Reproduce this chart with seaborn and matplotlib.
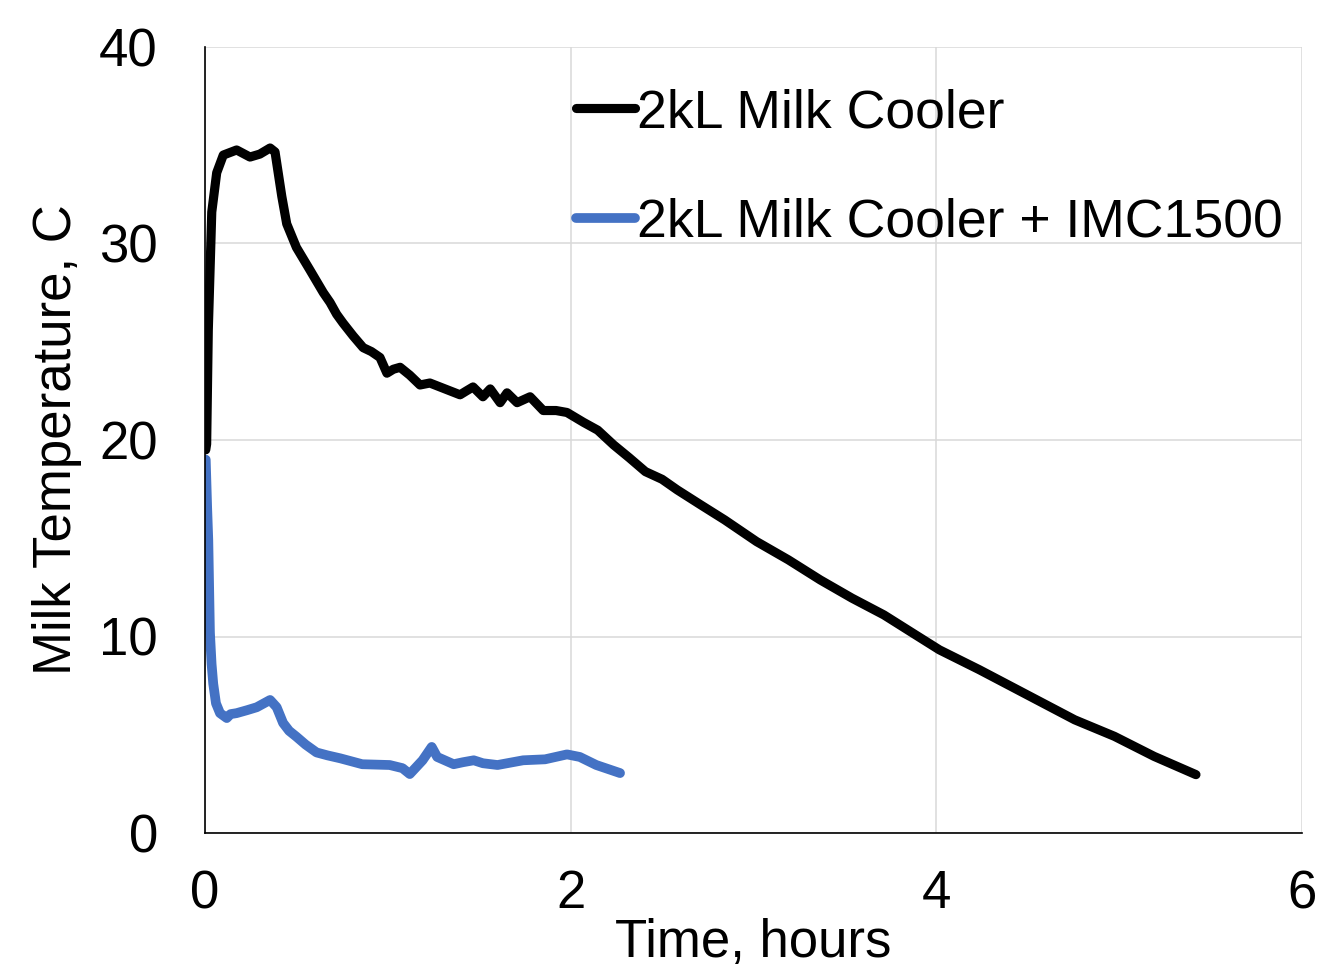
import numpy as np
import pandas as pd
import matplotlib
matplotlib.use("Agg")
import matplotlib.pyplot as plt
import seaborn as sns

# ---- data ----
series_names = ["2kL Milk Cooler", "2kL Milk Cooler + IMC1500"]
series_colors = ["#000000", "#4472C4"]

cooler_t = [0.004, 0.009, 0.018, 0.037, 0.064, 0.10, 0.173, 0.246, 0.30, 0.356,
            0.383, 0.42, 0.447, 0.50, 0.574, 0.647, 0.684, 0.72, 0.755, 0.81,
            0.865, 0.91, 0.957, 0.995, 1.03, 1.067, 1.12, 1.176, 1.23, 1.285,
            1.34, 1.395, 1.43, 1.466, 1.52, 1.56, 1.614, 1.652, 1.707, 1.778,
            1.85, 1.92, 1.98, 2.07, 2.148, 2.235, 2.32, 2.409, 2.5, 2.583,
            2.713, 2.843, 3.017, 3.191, 3.365, 3.539, 3.713, 3.887, 4.017, 4.235,
            4.409, 4.583, 4.757, 4.974, 5.191, 5.42]
cooler_temp = [19.5, 19.8, 25.6, 31.6, 33.6, 34.5, 34.76, 34.4, 34.55, 34.86,
               34.66, 32.4, 31.0, 29.8, 28.65, 27.5, 27.0, 26.4, 25.95, 25.3,
               24.7, 24.5, 24.2, 23.4, 23.6, 23.7, 23.3, 22.8, 22.9, 22.7,
               22.5, 22.3, 22.5, 22.7, 22.2, 22.6, 21.9, 22.4, 21.9, 22.2,
               21.5, 21.5, 21.4, 20.9, 20.5, 19.75, 19.1, 18.39, 18.0, 17.46,
               16.69, 15.93, 14.83, 13.9, 12.88, 11.95, 11.1, 10.08, 9.32, 8.31,
               7.46, 6.61, 5.76, 4.92, 3.9, 2.97]

imc_t = [0.004, 0.012, 0.018, 0.027, 0.036, 0.045, 0.06, 0.082, 0.119, 0.14,
         0.173, 0.23, 0.283, 0.356, 0.392, 0.427, 0.46, 0.50, 0.55, 0.61,
         0.67, 0.74, 0.86, 1.01, 1.08, 1.12, 1.19, 1.24, 1.27, 1.36,
         1.41, 1.47, 1.52, 1.60, 1.74, 1.86, 1.98, 2.05, 2.14, 2.27]
imc_temp = [19.0, 16.5, 14.9, 10.2, 8.6, 7.6, 6.6, 6.1, 5.85, 6.05,
            6.1, 6.25, 6.4, 6.77, 6.4, 5.6, 5.2, 4.9, 4.5, 4.1,
            3.95, 3.8, 3.5, 3.46, 3.3, 3.0, 3.7, 4.38, 3.87, 3.5,
            3.6, 3.7, 3.55, 3.46, 3.7, 3.75, 4.0, 3.87, 3.46, 3.05]

x_ticks = [0, 2, 4, 6]
y_ticks = [0, 10, 20, 30, 40]
x_label = "Time, hours"
y_label = "Milk Temperature, C"

# ---- styling ----
sns.set_theme(style="whitegrid")
plt.rcParams['font.family'] = ['Liberation Sans', 'DejaVu Sans']
FS = 38
LFS = 38.5
BLACK_LW = 7.6
BLUE_LW = 8.0

W, H = 1343, 971
fig = plt.figure(figsize=(W / 100, H / 100), dpi=100)
fig.patch.set_facecolor("white")
ax = fig.add_axes([205 / W, 1 - 833 / H, (1302 - 205) / W, (833 - 47) / H])

sns.lineplot(x=cooler_t, y=cooler_temp, color=series_colors[0], sort=False,
             estimator=None, ax=ax, label=series_names[0], linewidth=BLACK_LW)
sns.lineplot(x=imc_t, y=imc_temp, color=series_colors[1], sort=False,
             estimator=None, ax=ax, label=series_names[1], linewidth=BLUE_LW)
for ln in ax.get_lines():
    c = matplotlib.colors.to_hex(ln.get_color())
    ln.set_linewidth(BLACK_LW if c == "#000000" else BLUE_LW)
    ln.set_solid_capstyle("round")
    ln.set_solid_joinstyle("round")

ax.set_xlim(0, 6)
ax.set_ylim(0, 40)
ax.set_xticks(x_ticks)
ax.set_yticks(y_ticks)
ax.set_xticklabels([str(v) for v in x_ticks])
ax.set_yticklabels([str(v) for v in y_ticks])
ax.tick_params(axis="x", length=0, pad=26, labelsize=FS, colors="black")
ax.tick_params(axis="y", length=0, pad=34, labelsize=FS, colors="black")
ax.set_xlabel(x_label, fontsize=FS, labelpad=-1, color="black")
ax.set_ylabel(y_label, fontsize=FS, labelpad=12, color="black")

ax.set_facecolor("white")
ax.grid(True, color="#d9d9d9", linewidth=1.1)
ax.set_axisbelow(True)
for s in ["top", "right"]:
    ax.spines[s].set_visible(False)
for s in ["left", "bottom"]:
    ax.spines[s].set_visible(True)
    ax.spines[s].set_color("black")
    ax.spines[s].set_linewidth(1.2)
    ax.spines[s].set_zorder(3)

handles, labels = ax.get_legend_handles_labels()
for h in handles:
    c = matplotlib.colors.to_hex(h.get_color())
    h.set_linewidth(BLACK_LW - 1.0 if c == "#000000" else BLUE_LW - 1.0)
    h.set_solid_capstyle("round")
leg = ax.legend(handles, labels, loc="upper left",
                bbox_to_anchor=(576 / W, 1 - 88 / H), bbox_transform=fig.transFigure,
                frameon=False, fontsize=LFS, handlelength=1.1, handletextpad=0.05,
                labelspacing=1.12, borderpad=0, borderaxespad=0)
for t in leg.get_texts():
    t.set_color("black")

fig.savefig("out.png", dpi=100, facecolor="white")
